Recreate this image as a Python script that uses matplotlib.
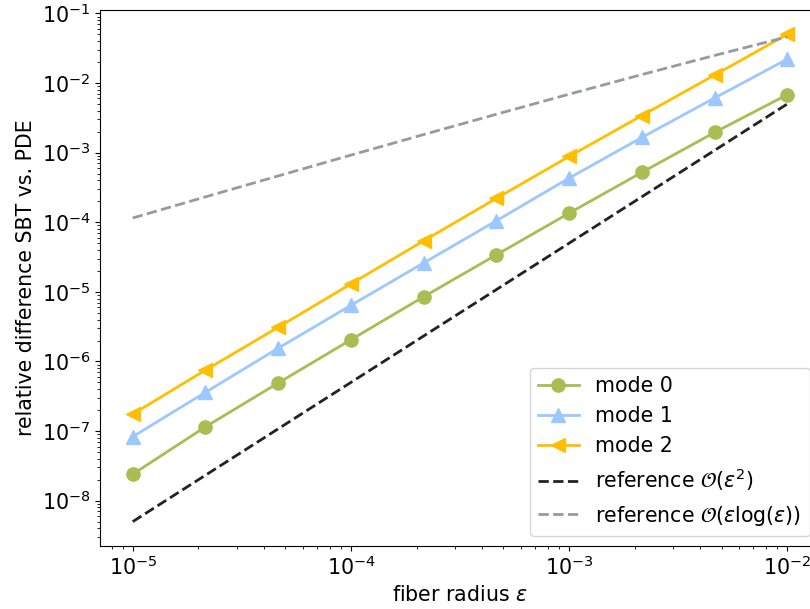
import matplotlib
matplotlib.use("Agg")
import matplotlib.pyplot as plt

eps = [1.0e-5, 2.154e-5, 4.642e-5, 1.0e-4, 2.154e-4, 4.642e-4, 1.0e-3, 2.154e-3, 4.642e-3, 1.0e-2]
mode0 = [2.4e-8, 1.15e-7, 4.9e-7, 2.05e-6, 8.5e-6, 3.4e-5, 1.35e-4, 5.2e-4, 1.95e-3, 6.8e-3]
mode1 = [8.3e-8, 3.6e-7, 1.55e-6, 6.4e-6, 2.6e-5, 1.05e-4, 4.3e-4, 1.65e-3, 6.1e-3, 2.2e-2]
mode2 = [1.75e-7, 7.5e-7, 3.1e-6, 1.3e-5, 5.4e-5, 2.2e-4, 8.8e-4, 3.4e-3, 1.3e-2, 5.0e-2]
ref_eps2 = [5.0e-9, 2.32e-8, 1.077e-7, 5.0e-7, 2.32e-6, 1.077e-5, 5.0e-5, 2.32e-4, 1.077e-3, 5.0e-3]
ref_epslog = [1.151e-4, 2.314e-4, 4.626e-4, 9.21e-4, 1.818e-3, 3.56e-3, 6.91e-3, 1.322e-2, 2.49e-2, 4.61e-2]

labels = ["mode 0", "mode 1", "mode 2",
          r"reference $\mathcal{O}(\varepsilon^2)$",
          r"reference $\mathcal{O}(\varepsilon\log(\varepsilon))$"]

plt.rcParams['font.family'] = ['DejaVu Sans']
plt.rcParams['font.size'] = 14.8

fig = plt.figure(figsize=(8.1, 6.09), dpi=100)
ax = fig.add_axes([100/810, 63/609, 720/810, 536/609])

lw = 2.0
ax.plot(eps, mode0, color="#a8bd52", marker="o", ms=9.5, lw=lw, label=labels[0])
ax.plot(eps, mode1, color="#9cc8ff", marker="^", ms=9.5, lw=lw, label=labels[1])
ax.plot(eps, mode2, color="#ffbf00", marker="<", ms=9.5, lw=lw, label=labels[2])
ax.plot(eps, ref_eps2, color="#222222", ls="--", lw=lw, label=labels[3])
ax.plot(eps, ref_epslog, color="#939ba3", ls="--", lw=lw, label=labels[4])

ax.set_xscale("log")
ax.set_yscale("log")
ax.set_xlabel(r"fiber radius $\varepsilon$")
ax.set_ylabel("relative difference SBT vs. PDE")
ax.legend(loc="lower right")

fig.savefig("out.png", dpi=100)
